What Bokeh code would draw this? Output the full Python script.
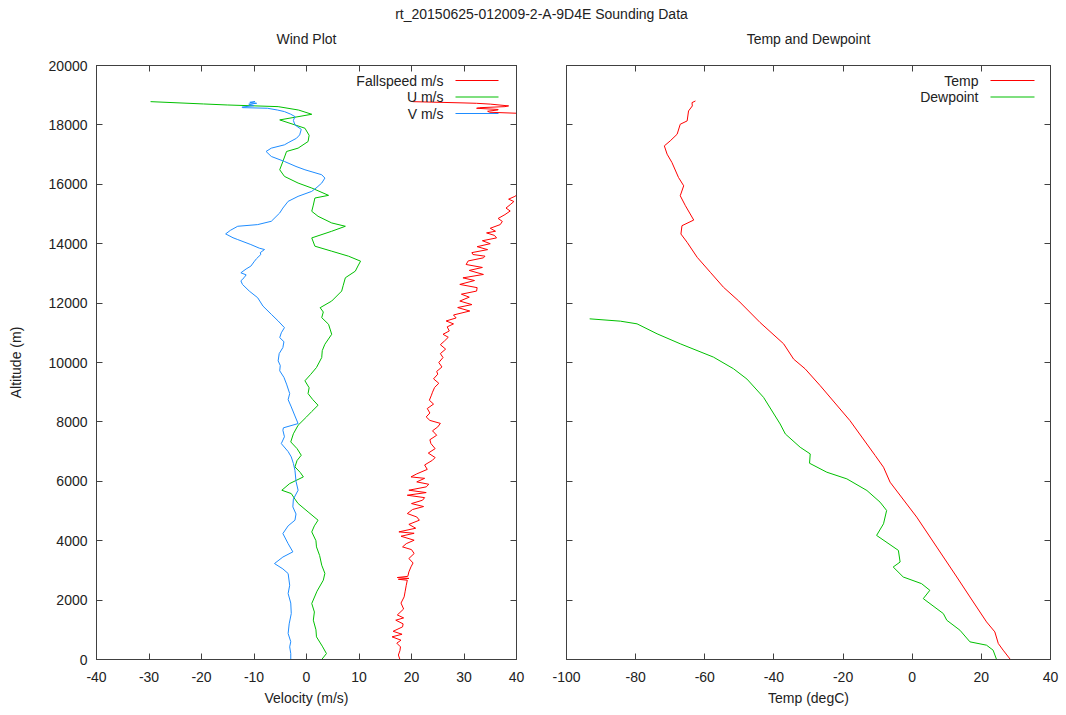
from bokeh.plotting import figure
from bokeh.models import (Range1d, LinearAxis, FixedTicker, Label, BoxAnnotation,
                          CustomJSTickFormatter)
from bokeh.layouts import column, row
from bokeh.embed import file_html
from bokeh.resources import INLINE

# ---------------- data ----------------
main_title = "rt_20150625-012009-2-A-9D4E Sounding Data"
wind_title = "Wind Plot"
temp_title = "Temp and Dewpoint"

fall_alt = [18783, 18740, 18727, 18700, 18640, 18615, 18580, 18560, 18520, 18504, 18460, 18425,
            18380, 18358, 17500, 16600, 15700, 15594, 15500, 15420, 15314, 15200, 15100, 14979,
            14850, 14750, 14643, 14520, 14420, 14363, 14280, 14195, 14100, 14000, 13900, 13800,
            13700, 13636, 13580, 13524, 13420, 13300, 13200, 13100, 12965, 12850, 12760, 12629,
            12520, 12405, 12300, 12200, 12069, 11950, 11850, 11734, 11600, 11500, 11398, 11300,
            11200, 11062, 10950, 10850, 10727, 10600, 10450, 10300, 10167, 10000, 9850, 9700,
            9607, 9450, 9300, 9160, 9000, 8900, 8729, 8600, 8450, 8300, 8168, 8050, 7950, 7831,
            7700, 7550, 7400, 7270, 7100, 6950, 6800, 6709, 6550, 6400, 6250, 6148, 6100, 5980,
            5900, 5812, 5700, 5620, 5531, 5450, 5363, 5250, 5150, 5050, 4914, 4800, 4690, 4550,
            4420, 4297, 4250, 4150, 4016, 3900, 3792, 3700, 3568, 3400, 3250, 3119, 2950, 2800,
            2760, 2730, 2700, 2670, 2500, 2300, 2109, 1900, 1700, 1500, 1400, 1324, 1200, 1099,
            950, 850, 763, 650, 550, 426, 300, 150, 0]
fall_v = [20.2, 30.0, 32.4, 35.0, 38.5, 37.8, 33.0, 32.4, 36.5, 36.5, 34.5, 34.9,
          42.0, 46.0, 48.0, 46.0, 40.5, 39.7, 38.5, 39.5, 38.8, 38.0, 38.8, 37.8,
          36.5, 37.3, 36.9, 35.0, 36.0, 34.3, 35.8, 36.2, 33.5, 35.0, 32.5, 34.5,
          31.5, 31.7, 34.0, 33.7, 30.8, 30.4, 33.5, 31.0, 33.7, 29.8, 32.0, 29.2,
          32.5, 32.4, 29.5, 31.0, 29.2, 31.5, 28.8, 31.1, 28.0, 28.5, 26.6, 28.0,
          26.8, 27.2, 26.0, 27.0, 26.3, 25.5, 26.5, 25.5, 26.0, 25.2, 25.8, 24.8,
          25.0, 24.2, 25.2, 24.4, 24.0, 23.8, 23.4, 24.2, 23.0, 23.5, 22.8, 23.5, 25.5, 25.0,
          24.0, 24.8, 23.5, 23.7, 24.5, 23.2, 24.5, 24.0, 22.5, 23.0, 21.0, 19.9, 22.5, 21.0,
          23.3, 22.8, 19.5, 22.8, 19.2, 22.5, 22.1, 20.0, 22.3, 20.2, 19.2, 21.0, 21.5, 19.5,
          20.8, 17.6, 20.5, 18.0, 20.5, 19.0, 18.3, 20.0, 20.5, 19.5, 20.3, 19.9, 19.5, 19.3,
          17.3, 19.5, 17.5, 19.2, 19.0, 18.8, 18.6, 18.0, 18.5, 17.3, 18.5, 17.0, 18.4, 18.3,
          16.5, 18.2, 16.3, 18.0, 17.2, 17.9, 17.8, 17.5, 17.8]

u_alt = [18783, 18705, 18671, 18615, 18500, 18358, 18168, 18000, 17888, 17650, 17440, 17217,
         17105, 16769, 16489, 16266, 16042, 15874, 15628, 15538, 15300, 15091, 14923, 14699,
         14587, 14419, 14195, 13916, 13748, 13580, 13412, 13250, 13076, 12853, 12600, 12405,
         12069, 11845, 11700, 11510, 11286, 10950, 10615, 10400, 10167, 9831, 9600, 9384,
         9150, 8953, 8750, 8561, 8350, 8168, 7887, 7600, 7326, 7100, 6878, 6700, 6485, 6300,
         6148, 5924, 5699, 5587, 5400, 5251, 4970, 4690, 4500, 4297, 4000, 3792, 3500, 3175,
         2900, 2670, 2300, 1885, 1600, 1324, 1000, 763, 450, 200, 0]
u_v = [-29.7, -19.6, -15.1, -5.4, -1.5, 1.0, -5.1, -2.2, -0.3, 0.5, 0.3, -1.6,
       -3.8, -4.5, -5.1, -4.2, -1.6, 1.0, 4.2, 1.6, 1.3, 1.0, 2.2, 4.8,
       7.4, 4.8, 1.0, 1.6, 4.8, 8.0, 10.3, 9.8, 9.3, 7.4, 7.0, 6.7,
       4.8, 2.6, 3.2, 2.9, 4.2, 4.8, 3.5, 3.0, 2.9, 1.9, 0.8, -0.3,
       0.5, 0.3, 1.2, 2.2, 1.0, 0.0, -1.6, -2.5, -3.0, -1.8, -1.0, -1.8, -2.2, -1.2,
       -0.6, -3.2, -4.7, -2.9, -2.2, -1.6, 0.3, 2.2, 1.5, 1.0, 1.8, 1.9, 2.5, 2.9,
       3.5, 3.2, 2.0, 1.0, 1.5, 1.3, 1.8, 1.9, 3.0, 3.8, 2.9]

v_alt = [18790, 18760, 18727, 18700, 18650, 18600, 18582, 18560, 18500, 18448, 18360, 18280,
         18150, 18000, 17850, 17664, 17550, 17400, 17329, 17217, 17105, 16937, 16769, 16600,
         16489, 16322, 16210, 16042, 15900, 15762, 15594, 15426, 15200, 15035, 14755, 14643,
         14587, 14450, 14330, 14200, 14139, 13971, 13850, 13804, 13700, 13636, 13500, 13412,
         13244, 13150, 13020, 12950, 12853, 12750, 12629, 12405, 12181, 11901, 11622, 11398,
         11174, 11000, 10838, 10700, 10503, 10300, 10055, 9900, 9720, 9500, 9272, 8953, 8750,
         8504, 8200, 7943, 7800, 7719, 7500, 7270, 7000, 6821, 6600, 6373, 6000, 5699, 5400,
         5138, 4900, 4690, 4500, 4241, 3900, 3624, 3450, 3231, 3050, 2895, 2500, 2221, 1900,
         1548, 1200, 875, 600, 426, 200, 0]
v_v = [-9.8, -10.8, -9.5, -11.0, -10.0, -12.3, -12.2, -7.4, -5.5, -4.2, -3.0, -2.2,
       -2.5, -2.2, -1.0, -1.3, -1.9, -3.5, -4.2, -6.7, -7.7, -6.7, -4.2, -2.0,
       -0.3, 2.9, 3.5, 2.9, 2.0, 1.0, -1.6, -3.5, -4.5, -5.1, -6.7, -9.3,
       -13.1, -14.5, -15.4, -14.0, -13.1, -10.6, -9.0, -8.0, -8.8, -8.7, -9.5, -9.9,
       -10.6, -11.5, -12.5, -11.5, -11.9, -12.5, -12.2, -10.9, -9.3, -8.3, -6.7, -5.4,
       -4.2, -4.8, -5.1, -4.3, -4.5, -5.2, -5.4, -5.0, -5.1, -4.3, -3.8, -3.2, -3.5,
       -2.9, -2.2, -1.6, -4.4, -4.5, -4.2, -4.8, -3.5, -2.9, -2.5, -2.2, -2.0, -1.6, -2.5,
       -2.6, -2.0, -2.2, -3.5, -4.5, -3.5, -2.6, -4.5, -6.1, -4.5, -3.5, -3.2, -3.5, -3.0,
       -2.9, -3.3, -3.5, -3.0, -3.2, -3.0, -3.0]

temp_alt = [18806, 18750, 18638, 18470, 18134, 18022, 17686, 17462, 17294, 17014, 16734,
            16230, 15950, 15614, 15278, 14796, 14606, 14326, 14046, 13542, 13038, 12534,
            12074, 11346, 10630, 10114, 9790, 9218, 8042, 6866, 6474, 5970, 4794, 3786,
            2778, 2106, 1266, 930, 538, 314, 0]
temp_t = [-62.7, -63.7, -63.6, -64.7, -65.1, -67.1, -68.0, -70.0, -71.7, -70.9, -69.5,
          -67.6, -66.1, -67.1, -65.6, -63.2, -66.6, -66.9, -65.1, -62.2, -58.4, -54.6,
          -50.2, -44.0, -37.2, -34.3, -31.0, -26.6, -18.0, -10.7, -8.3, -6.4, 1.3, 7.1,
          12.9, 16.7, 21.5, 23.9, 24.9, 26.3, 28.4]

dew_alt = [11470, 11392, 11302, 10966, 10630, 10182, 9790, 9442, 8826, 7930, 7594, 7146,
           6922, 6608, 6306, 6082, 5690, 5298, 5018, 4570, 4178, 3674, 3282, 3114, 2778,
           2554, 2330, 2050, 1546, 1322, 986, 594, 482, 314, 0]
dew_t = [-93.3, -84.4, -79.6, -73.8, -67.1, -57.5, -51.7, -47.8, -43.0, -38.2, -36.7, -32.4,
         -29.5, -29.7, -24.7, -18.9, -13.1, -9.3, -7.4, -8.3, -10.3, -4.0, -3.5, -5.5, -2.6,
         2.7, 5.1, 3.2, 9.0, 10.0, 13.8, 16.7, 21.5, 23.4, 24.4]

alt_ticks = [0, 2000, 4000, 6000, 8000, 10000, 12000, 14000, 16000, 18000, 20000]
vel_ticks = [-40, -30, -20, -10, 0, 10, 20, 30, 40]
temp_ticks = [-100, -80, -60, -40, -20, 0, 20, 40]

wind_series = [("Fallspeed m/s", fall_v, fall_alt, "#ff0000"),
               ("U m/s", u_v, u_alt, "#00c000"),
               ("V m/s", v_v, v_alt, "#1e8cff")]
temp_series = [("Temp", temp_t, temp_alt, "#ff0000"),
               ("Dewpoint", dew_t, dew_alt, "#00c000")]

# ---------------- style ----------------
FONT = "Liberation Sans"
TXT = "#222222"
AX = "#404040"
FS = "14px"

plain_fmt = "return String(tick);"


def style_axis(ax, ticks, labels=True):
    ax.ticker = FixedTicker(ticks=ticks)
    ax.major_tick_in = 6
    ax.major_tick_out = 0
    ax.minor_tick_line_color = None
    ax.axis_line_color = AX
    ax.major_tick_line_color = AX
    ax.major_label_text_font = FONT
    ax.major_label_text_font_size = FS
    ax.major_label_text_color = TXT
    ax.axis_label_text_font = FONT
    ax.axis_label_text_font_size = FS
    ax.axis_label_text_font_style = "normal"
    ax.axis_label_text_color = TXT
    if labels:
        ax.formatter = CustomJSTickFormatter(code=plain_fmt)
    else:
        ax.formatter = CustomJSTickFormatter(code="return '';")
        ax.major_label_standoff = 0


def make_panel(xr, xticks, xlabel, ylabel, border_left, frame_w, border_right, series,
               legend_right, line_x0, line_x1):
    p = figure(output_backend="svg", toolbar_location=None, title=None,
               frame_width=frame_w, frame_height=594,
               min_border_left=border_left, min_border_right=border_right,
               min_border_top=15, min_border_bottom=48,
               x_range=Range1d(*xr), y_range=Range1d(0, 20000))
    p.grid.visible = False
    p.outline_line_color = AX
    p.background_fill_color = "white"
    p.border_fill_color = "white"

    style_axis(p.xaxis[0], xticks)
    p.xaxis[0].axis_label = xlabel
    p.xaxis[0].major_label_standoff = 12
    p.xaxis[0].axis_label_standoff = 5
    style_axis(p.yaxis[0], alt_ticks, labels=ylabel is not None)
    if ylabel is not None:
        p.yaxis[0].axis_label = ylabel
        p.yaxis[0].major_label_standoff = 9
        p.yaxis[0].axis_label_standoff = 22

    top = LinearAxis()
    style_axis(top, xticks, labels=False)
    p.add_layout(top, "above")
    right = LinearAxis()
    style_axis(right, alt_ticks, labels=False)
    p.add_layout(right, "right")

    for i, (name, xs, ys, col) in enumerate(series):
        p.line(xs, ys, line_color=col, line_width=1)
        yrow = 579 - i * 16.5
        p.add_layout(Label(x=legend_right, y=yrow, x_units="screen", y_units="screen",
                           text=name, text_align="right", text_baseline="middle",
                           text_font=FONT, text_font_size=FS, text_color=TXT))
        p.add_layout(BoxAnnotation(left=line_x0, right=line_x1, bottom=yrow - 0.6, top=yrow + 0.6,
                                   left_units="screen", right_units="screen",
                                   bottom_units="screen", top_units="screen",
                                   fill_color=col, fill_alpha=1.0, line_alpha=0))
    return p


p1 = make_panel((-40, 40), vel_ticks, "Velocity (m/s)", "Altitude (m)",
                96, 420, 20, wind_series, 347, 359, 402)
p2 = make_panel((-100, 40), temp_ticks, "Temp (degC)", None,
                30, 484, 10, temp_series, 412, 424, 468)

# header strip with the overall title and the two panel titles
pt = figure(output_backend="svg", toolbar_location=None, width=1060, height=50,
            min_border=0, x_range=Range1d(0, 1), y_range=Range1d(0, 1))
pt.axis.visible = False
pt.grid.visible = False
pt.outline_line_color = None
for txt, cx, cy in [(main_title, 541, 37), (wind_title, 306, 12), (temp_title, 808, 12)]:
    pt.add_layout(Label(x=cx, y=cy, x_units="screen", y_units="screen", text=txt,
                        text_align="center", text_baseline="middle", text_font=FONT,
                        text_font_size=FS, text_color=TXT))

layout = column(pt, row(p1, p2))
open("out.html", "w").write(file_html(layout, INLINE))
